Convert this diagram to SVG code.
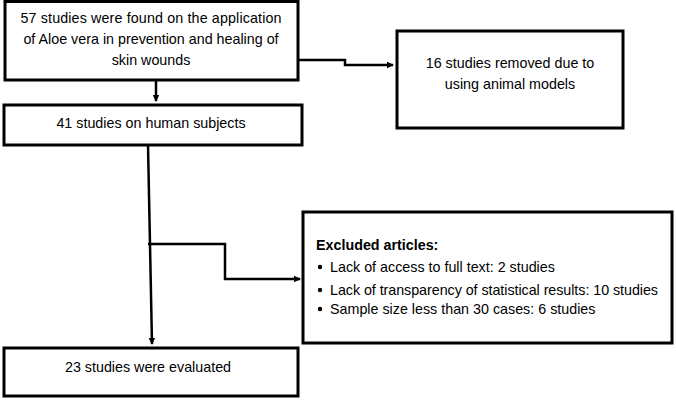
<svg xmlns="http://www.w3.org/2000/svg" width="676" height="400" viewBox="0 0 676 400">
<defs>
<style>
.box{fill:#fff;stroke:#000;stroke-width:3}
.t{font-family:"Liberation Sans",Arial,sans-serif;font-size:14.3px;fill:#000}
.c{text-anchor:middle}
.b{font-weight:bold}
.ln{fill:none;stroke:#000;stroke-width:2.5}
</style>
<marker id="ah" markerWidth="8" markerHeight="8" refX="6" refY="4" orient="auto" markerUnits="userSpaceOnUse">
<path d="M0,0.8 L7,4 L0,7.2 Z" fill="#000"/>
</marker>
</defs>
<rect width="676" height="400" fill="#fff"/>
<g id="connectors">
<path class="ln" d="M156,80 V101" marker-end="url(#ah)"/>
<path class="ln" d="M298,60 H345 V65 H393" marker-end="url(#ah)"/>
<path class="ln" d="M148,145 L152,344" marker-end="url(#ah)"/>
<path class="ln" d="M148,244 H225 V279 H300" marker-end="url(#ah)"/>
</g>
<g id="n1">
<rect class="box" x="5" y="1.5" width="293" height="78.5"/>
<text class="t c" x="151" y="23" textLength="261">57 studies were found on the application</text>
<text class="t c" x="151" y="44">of Aloe vera in prevention and healing of</text>
<text class="t c" x="151" y="65">skin wounds</text>
</g>
<g id="n2">
<rect class="box" x="4" y="105" width="298" height="40"/>
<text class="t c" x="151" y="128">41 studies on human subjects</text>
</g>
<g id="n3">
<rect class="box" x="397" y="31" width="226" height="97"/>
<text class="t c" x="510" y="68">16 studies removed due to</text>
<text class="t c" x="510" y="89">using animal models</text>
</g>
<g id="n4">
<rect class="box" x="303" y="212" width="369" height="131"/>
<text class="t b" x="316" y="250">Excluded  articles:</text>
<circle cx="320" cy="267" r="2.2" fill="#000"/>
<text class="t" x="330" y="272">Lack of access to full text: 2 studies</text>
<circle cx="320" cy="290" r="2.2" fill="#000"/>
<text class="t" x="330" y="295" textLength="328">Lack of transparency of statistical results: 10 studies</text>
<circle cx="320" cy="309" r="2.2" fill="#000"/>
<text class="t" x="330" y="314">Sample size less than 30 cases: 6 studies</text>
</g>
<g id="n5">
<rect class="box" x="4" y="348" width="294" height="48"/>
<text class="t c" x="148" y="372">23 studies were evaluated</text>
</g>
</svg>
